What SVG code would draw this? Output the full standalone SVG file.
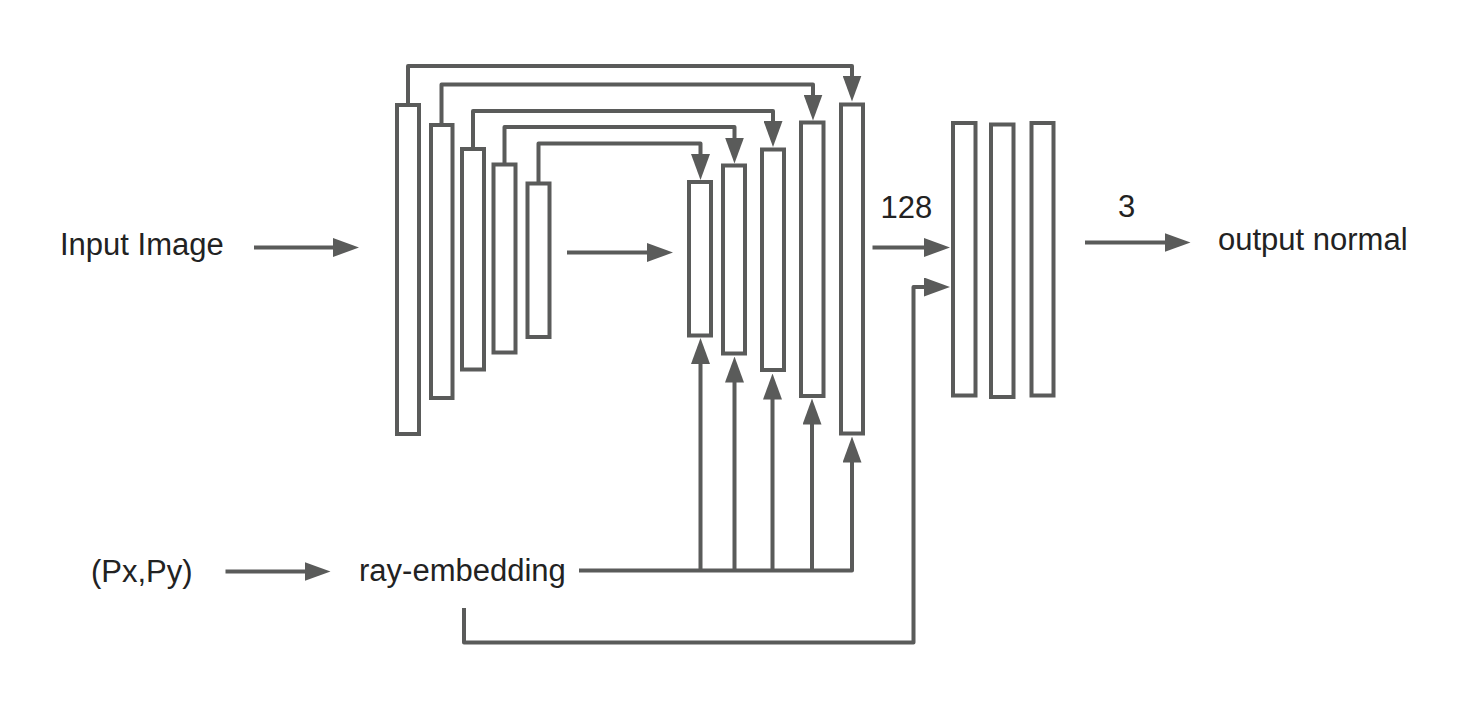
<svg xmlns="http://www.w3.org/2000/svg" width="1458" height="718" viewBox="0 0 1458 718">
<style>
.blk{fill:#fff;stroke:#5a5b5a;stroke-width:4}
.ln{fill:none;stroke:#5a5b5a;stroke-width:4;stroke-linejoin:round}
.arr{marker-end:url(#ah)}
.t{font-family:"Liberation Sans",Arial,sans-serif;font-size:31px;fill:#222}
</style>
<defs>
<marker id="ah" markerUnits="userSpaceOnUse" markerWidth="26" markerHeight="19" refX="6" refY="9.5" orient="auto" viewBox="0 0 26 19">
<path d="M0,0 L26,9.5 L0,19 z" fill="#5a5b5a"/>
</marker>
</defs>
<rect width="1458" height="718" fill="#fff"/>
<g id="encoder">
<rect class="blk" x="397" y="105" width="22" height="329"/>
<rect class="blk" x="431" y="125" width="21.5" height="273"/>
<rect class="blk" x="462" y="149" width="22" height="220.5"/>
<rect class="blk" x="493.5" y="164.5" width="22" height="188"/>
<rect class="blk" x="527.5" y="183.5" width="22" height="153.5"/>
</g>
<g id="decoder">
<rect class="blk" x="689" y="182" width="22" height="153.5"/>
<rect class="blk" x="723" y="165.5" width="22" height="188"/>
<rect class="blk" x="762" y="149.5" width="22" height="220.5"/>
<rect class="blk" x="801" y="122.5" width="22.5" height="273.5"/>
<rect class="blk" x="841" y="104.5" width="22" height="329"/>
</g>
<g id="head">
<rect class="blk" x="953" y="123" width="22.5" height="272.5"/>
<rect class="blk" x="991" y="124.5" width="22.5" height="272.5"/>
<rect class="blk" x="1031.5" y="123" width="22" height="272.5"/>
</g>
<g id="connectors">
<path class="ln arr" d="M408,105 V66 H852 V81.5"/>
<path class="ln arr" d="M441.5,125 V84.5 H813 V100.5"/>
<path class="ln arr" d="M473,149 V111 H773 V127"/>
<path class="ln arr" d="M504.5,164.5 V127 H734.5 V143.5"/>
<path class="ln arr" d="M538.5,183.5 V143.5 H700.5 V160"/>
<path class="ln arr" d="M579,570.5 H852 V456.5"/>
<path class="ln arr" d="M700.5,570.5 V358"/>
<path class="ln arr" d="M734.5,570.5 V376.5"/>
<path class="ln arr" d="M772.5,570.5 V393.5"/>
<path class="ln arr" d="M812,570.5 V418.5"/>
<path class="ln arr" d="M464,608 V642.5 H913.5 V287 H930"/>
<path class="ln arr" d="M254,247.5 H339"/>
<path class="ln arr" d="M567,252.5 H653"/>
<path class="ln arr" d="M872.5,247.5 H930"/>
<path class="ln arr" d="M1085,242.5 H1170.5"/>
<path class="ln arr" d="M225.5,571.5 H310.5"/>
</g>
<g id="labels">
<text class="t" x="60" y="255">Input Image</text>
<text class="t" x="880.5" y="217.5">128</text>
<text class="t" x="1118" y="216.5">3</text>
<text class="t" x="1218" y="250">output normal</text>
<text class="t" x="91" y="582">(Px,Py)</text>
<text class="t" x="359" y="580.5">ray-embedding</text>
</g>
</svg>
